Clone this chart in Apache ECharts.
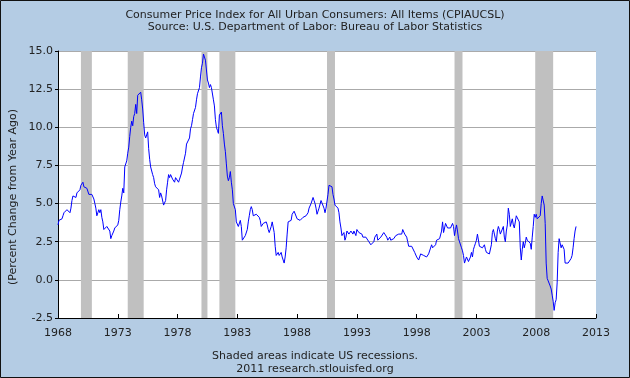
<!DOCTYPE html>
<html><head><meta charset="utf-8">
<script src="https://cdn.jsdelivr.net/npm/echarts@6/dist/echarts.min.js"></script>
<style>html,body{margin:0;padding:0;background:#b4cce4}#c{width:630px;height:378px}</style>
</head><body><div id="c"></div><script>
const startYear = 1968;
// Monthly CPI percent change from a year ago, Jan 1968 .. May 2011
const cpiChange = [
3.6,3.9,3.9,3.9,4.0,4.2,4.4,4.4,4.4,4.6,4.7,4.7,
4.4,4.7,5.2,5.5,5.5,5.5,5.4,5.7,5.7,5.7,5.9,6.2,
6.2,6.4,6.1,6.1,6.0,6.0,5.9,5.6,5.7,5.6,5.6,5.6,
5.3,5.0,4.7,4.2,4.4,4.6,4.4,4.6,4.1,3.8,3.3,3.3,
3.3,3.5,3.5,3.5,3.2,2.7,2.9,2.9,3.2,3.4,3.4,3.4,
3.6,3.9,4.6,5.1,5.5,6.0,5.7,7.4,7.4,7.8,8.3,8.7,
9.4,10.0,10.4,10.1,10.7,10.9,11.5,10.9,12.1,12.1,12.2,12.3,
11.8,11.2,10.3,9.5,9.3,9.4,9.7,8.6,7.9,7.4,7.4,6.9,
6.7,6.3,6.1,6.0,6.2,5.9,5.4,5.7,5.5,5.5,4.9,4.9,
5.2,5.9,6.4,6.9,6.7,6.9,6.8,6.6,6.6,6.4,6.7,6.7,
6.8,6.4,6.6,6.5,7.0,7.4,7.7,7.8,8.3,8.9,8.9,9.0,
9.3,9.9,10.1,10.5,10.9,10.9,11.3,11.8,12.2,12.1,12.6,13.3,
13.9,14.2,14.8,14.7,14.4,14.4,13.1,12.9,12.6,12.8,12.6,12.5,
11.8,11.4,10.5,10.0,9.8,9.6,10.8,10.8,11.0,10.1,9.6,8.9,
8.4,7.6,6.8,6.5,6.7,7.1,6.4,5.9,5.0,5.1,4.6,3.8,
3.7,3.5,3.6,3.9,3.5,2.6,2.5,2.6,2.9,2.9,3.3,3.8,
4.2,4.6,4.8,4.6,4.2,4.2,4.2,4.3,4.3,4.3,4.1,3.9,
3.5,3.5,3.7,3.7,3.8,3.8,3.6,3.3,3.1,3.2,3.5,3.8,
3.9,3.1,2.2,1.6,1.6,1.8,1.6,1.6,1.8,1.5,1.3,1.1,
1.5,2.1,3.0,3.8,3.9,3.7,3.9,4.3,4.4,4.5,4.5,4.4,
4.0,3.9,3.9,3.9,3.9,3.9,4.1,4.0,4.2,4.2,4.2,4.4,
4.7,4.8,5.0,5.1,5.4,5.2,5.0,4.7,4.3,4.5,4.7,4.6,
5.2,5.3,5.2,4.7,4.4,4.7,4.8,5.6,6.2,6.3,6.3,6.1,
5.6,5.3,4.9,4.9,4.9,4.7,4.4,3.8,3.4,2.9,3.0,3.1,
2.6,2.8,3.2,3.2,3.0,3.1,3.2,3.1,3.0,3.2,3.1,2.9,
3.3,3.2,3.1,3.2,3.2,3.0,2.8,2.8,2.7,2.8,2.7,2.7,
2.5,2.4,2.3,2.4,2.3,2.5,2.8,2.9,3.0,2.6,2.7,2.7,
2.8,2.9,2.9,3.1,3.2,3.0,2.8,2.6,2.5,2.8,2.6,2.5,
2.7,2.7,2.8,2.9,2.9,2.8,3.0,2.9,3.0,3.0,3.3,3.3,
3.0,3.0,2.8,2.5,2.2,2.3,2.2,2.2,2.2,2.1,1.8,1.7,
1.5,1.4,1.3,1.4,1.7,1.7,1.7,1.6,1.5,1.5,1.5,1.6,
1.7,1.6,1.7,2.3,2.1,2.0,2.1,2.3,2.6,2.6,2.6,2.7,
2.7,3.2,3.8,3.1,3.2,3.7,3.7,3.4,3.5,3.4,3.4,3.4,
3.7,3.5,2.9,3.3,3.6,3.2,2.7,2.7,2.6,2.1,1.9,1.6,
1.1,1.1,1.5,1.6,1.2,1.1,1.5,1.8,1.5,2.0,2.2,2.4,
2.6,3.0,3.0,2.2,2.1,2.1,2.1,2.2,2.3,2.0,1.8,1.9,
1.9,1.7,1.7,2.3,3.1,3.3,3.0,2.7,2.5,3.2,3.5,3.3,
3.0,3.0,3.1,3.5,2.8,2.5,3.2,3.6,4.7,4.3,3.5,3.4,
4.0,3.6,3.4,3.5,4.2,4.3,4.1,3.8,2.1,1.3,2.0,2.5,
2.1,2.4,2.8,2.6,2.7,2.7,2.4,2.0,2.8,3.5,4.3,4.1,
4.3,4.0,4.0,3.9,4.2,5.0,5.5,5.4,4.9,3.7,1.1,0.1,
0.0,0.0,-0.4,-0.6,-1.0,-1.4,-2.0,-1.5,-1.3,-0.2,1.8,2.7,
2.6,2.1,2.3,2.2,2.0,1.1,1.2,1.1,1.1,1.2,1.1,1.4,
1.6,2.1,2.7,3.2,3.5
];
// Recession periods (decimal years)
const recessionStart = [1969.917, 1973.833, 1980.0, 1981.5, 1990.5, 2001.167, 2007.917];
const recessionEnd   = [1970.833, 1975.167, 1980.5, 1982.833, 1991.167, 2001.833, 2009.417];
const xMin = 1968, xMax = 2013, xStep = 5;
const yMin = -2.5, yMax = 15, yStep = 2.5;

const titleLines = ['Consumer Price Index for All Urban Consumers: All Items (CPIAUCSL)',
                    'Source: U.S. Department of Labor: Bureau of Labor Statistics'];
const footerLines = ['Shaded areas indicate US recessions.', '2011 research.stlouisfed.org'];
const yAxisName = '(Percent Change from Year Ago)';

const seriesData = cpiChange.map((v, i) => [startYear + i / 12, v]);
const FONT = 'DejaVu Sans';
const chart = echarts.init(document.getElementById('c'), null, {renderer: 'canvas'});
chart.setOption({
  animation: false,
  backgroundColor: '#b4cce4',
  textStyle: {fontFamily: FONT},
  title: [
    {text: titleLines.join('\n'), left: 'center', top: 4,
     textStyle: {fontFamily: FONT, fontSize: 11, fontWeight: 'normal', color: '#222', lineHeight: 12}},
    {text: footerLines.join('\n'), left: 'center', top: 345,
     textStyle: {fontFamily: FONT, fontSize: 11, fontWeight: 'normal', color: '#222', lineHeight: 13}}
  ],
  grid: {left: 58, right: 34, top: 51, bottom: 60, show: true, backgroundColor: '#ffffff', borderWidth: 0},
  xAxis: {
    type: 'value', min: xMin, max: xMax, interval: xStep,
    axisLine: {show: true, onZero: false, lineStyle: {color: '#000', width: 1}},
    axisTick: {show: true, inside: true, length: 4, lineStyle: {color: '#000'}},
    axisLabel: {color: '#222', fontSize: 11, fontFamily: FONT, margin: 10, formatter: v => String(v)},
    splitLine: {show: false}
  },
  yAxis: {
    type: 'value', min: yMin, max: yMax, interval: yStep,
    axisLine: {show: true, lineStyle: {color: '#000', width: 1}},
    axisTick: {show: true, inside: false, length: 3, lineStyle: {color: '#000'}},
    axisLabel: {color: '#222', fontSize: 11, fontFamily: FONT, margin: 5, formatter: v => v.toFixed(1)},
    splitLine: {show: true, lineStyle: {color: '#aaaaaa', width: 1}}
  },
  graphic: [
    {type: 'text', x: 13, y: 197, rotation: Math.PI / 2,
     style: {text: yAxisName, fill: '#222', font: '11px "DejaVu Sans"', align: 'center', verticalAlign: 'middle'}},
    {type: 'rect', shape: {x: 0.5, y: 0.5, width: 629, height: 377},
     style: {fill: 'none', stroke: '#111', lineWidth: 1}, z: 100}
  ],
  series: [{
    type: 'line', data: seriesData, showSymbol: false, symbol: 'none',
    lineStyle: {color: '#0000ff', width: 1}, z: 3,
    markArea: {
      silent: true,
      itemStyle: {color: '#c0c0c0', opacity: 1},
      data: recessionStart.map((s, i) => [{xAxis: s}, {xAxis: recessionEnd[i]}])
    }
  }]
});
</script></body></html>
